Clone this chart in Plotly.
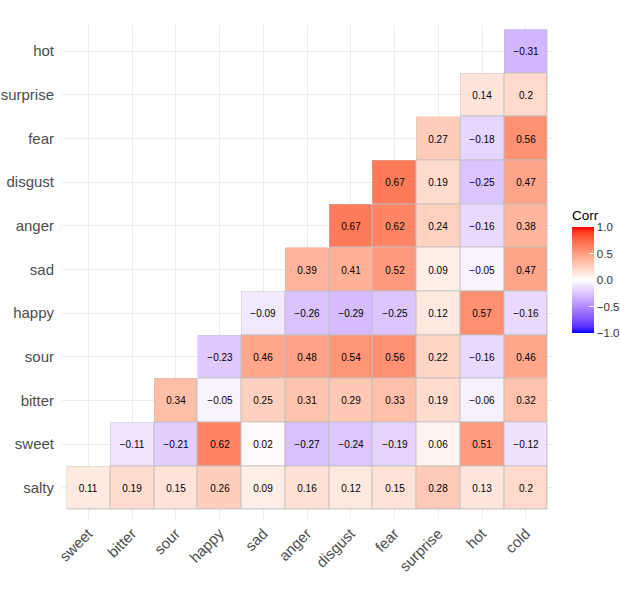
import numpy as np
import plotly.graph_objects as go

# variables: rows (y, bottom to top) and columns (x, left to right)
y_labels = ["salty", "sweet", "bitter", "sour", "happy", "sad",
            "anger", "disgust", "fear", "surprise", "hot"]
x_labels = ["sweet", "bitter", "sour", "happy", "sad", "anger",
            "disgust", "fear", "surprise", "hot", "cold"]

# lower-triangle correlations, one list per row (values to the right of the diagonal)
r_salty = [0.11, 0.19, 0.15, 0.26, 0.09, 0.16, 0.12, 0.15, 0.28, 0.13, 0.2]
r_sweet = [-0.11, -0.21, 0.62, 0.02, -0.27, -0.24, -0.19, 0.06, 0.51, -0.12]
r_bitter = [0.34, -0.05, 0.25, 0.31, 0.29, 0.33, 0.19, -0.06, 0.32]
r_sour = [-0.23, 0.46, 0.48, 0.54, 0.56, 0.22, -0.16, 0.46]
r_happy = [-0.09, -0.26, -0.29, -0.25, 0.12, 0.57, -0.16]
r_sad = [0.39, 0.41, 0.52, 0.09, -0.05, 0.47]
r_anger = [0.67, 0.62, 0.24, -0.16, 0.38]
r_disgust = [0.67, 0.19, -0.25, 0.47]
r_fear = [0.27, -0.18, 0.56]
r_surprise = [0.14, 0.2]
r_hot = [-0.31]

rows = [r_salty, r_sweet, r_bitter, r_sour, r_happy, r_sad,
        r_anger, r_disgust, r_fear, r_surprise, r_hot]

n = len(x_labels)
z = [[None] * (n - len(r)) + r for r in rows]
txt = [["" if v is None else f"{v:g}".replace("-", "\u2212") for v in row] for row in z]
frame = [[None if v is None else 1 for v in row] for row in z]


# blue-white-red gradient interpolated in Lab, like ggplot's gradient2
def to_lab(rgb):
    c = np.array(rgb) / 255.0
    c = np.where(c > 0.04045, ((c + 0.055) / 1.055) ** 2.4, c / 12.92)
    m = np.array([[0.4124, 0.3576, 0.1805],
                  [0.2126, 0.7152, 0.0722],
                  [0.0193, 0.1192, 0.9505]])
    xyz = m @ c / np.array([0.95047, 1.0, 1.08883])
    f = np.where(xyz > 0.008856, np.cbrt(xyz), 7.787 * xyz + 16 / 116)
    return np.array([116 * f[1] - 16, 500 * (f[0] - f[1]), 200 * (f[1] - f[2])])


def from_lab(lab):
    fy = (lab[0] + 16) / 116
    f = np.array([fy + lab[1] / 500, fy, fy - lab[2] / 200])
    xyz = np.where(f ** 3 > 0.008856, f ** 3, (f - 16 / 116) / 7.787)
    xyz = xyz * np.array([0.95047, 1.0, 1.08883])
    m = np.array([[3.2406, -1.5372, -0.4986],
                  [-0.9689, 1.8758, 0.0415],
                  [0.0557, -0.2040, 1.0570]])
    c = m @ xyz
    c = np.where(c > 0.0031308, 1.055 * np.clip(c, 0, None) ** (1 / 2.4) - 0.055, 12.92 * c)
    c = np.clip(c, 0, 1) * 255
    return "rgb(%d,%d,%d)" % tuple(np.round(c))


blue, white, red = to_lab((0, 0, 255)), to_lab((255, 255, 255)), to_lab((255, 0, 0))
scale = []
for i in range(21):
    t = i / 20
    if t <= 0.5:
        lab = blue + (white - blue) * (t / 0.5)
    else:
        lab = white + (red - white) * ((t - 0.5) / 0.5)
    scale.append([t, from_lab(lab)])

font = "Liberation Sans, Arial, sans-serif"

fig = go.Figure()

# grey layer that shows through the gaps as tile outlines
fig.add_trace(go.Heatmap(
    x=x_labels, y=y_labels, z=frame,
    colorscale=[[0, "#BEBEBE"], [1, "#BEBEBE"]],
    showscale=False, hoverinfo="skip",
))

fig.add_trace(go.Heatmap(
    x=x_labels, y=y_labels, z=z,
    text=txt, texttemplate="%{text}",
    textfont=dict(family=font, size=10, color="black"),
    colorscale=scale, zmin=-1, zmax=1,
    xgap=1, ygap=1,
    colorbar=dict(
        title=dict(text="Corr", side="top", font=dict(family=font, size=13.5, color="black")),
        tickvals=[-1, -0.5, 0, 0.5, 1],
        ticktext=["\u22121.0", "\u22120.5", "0.0", "0.5", "1.0"],
        tickfont=dict(family=font, size=11.5, color="#333333"),
        ticks="inside", ticklen=5, tickcolor="white", tickwidth=1,
        thickness=22, lenmode="pixels", len=126,
        x=1.041, xanchor="left", y=0.499, yanchor="middle",
        xpad=0, ypad=0, outlinewidth=0,
    ),
))

fig.update_layout(
    width=620, height=600,
    margin=dict(l=62, r=68, t=25, b=86, autoexpand=False),
    paper_bgcolor="white", plot_bgcolor="white",
    font=dict(family=font),
)
fig.update_xaxes(
    type="category", range=[-0.6, 10.6], tickangle=-45, automargin=False,
    showgrid=True, gridcolor="#EBEBEB", gridwidth=1, zeroline=False,
    ticks="outside", ticklen=4, tickcolor="#EBEBEB",
    tickfont=dict(family=font, size=15, color="#4D4D4D"),
)
fig.update_yaxes(
    type="category", range=[-0.6, 10.6], automargin=False,
    showgrid=True, gridcolor="#EBEBEB", gridwidth=1, zeroline=False,
    ticks="outside", ticklen=4, tickcolor="white",
    tickfont=dict(family=font, size=15, color="#4D4D4D"),
)

# drop the default 8px page margin so the figure sits at the window corner
fig.write_html("out.html", config={"displayModeBar": False},
               post_script="document.body.style.margin = '0';")
